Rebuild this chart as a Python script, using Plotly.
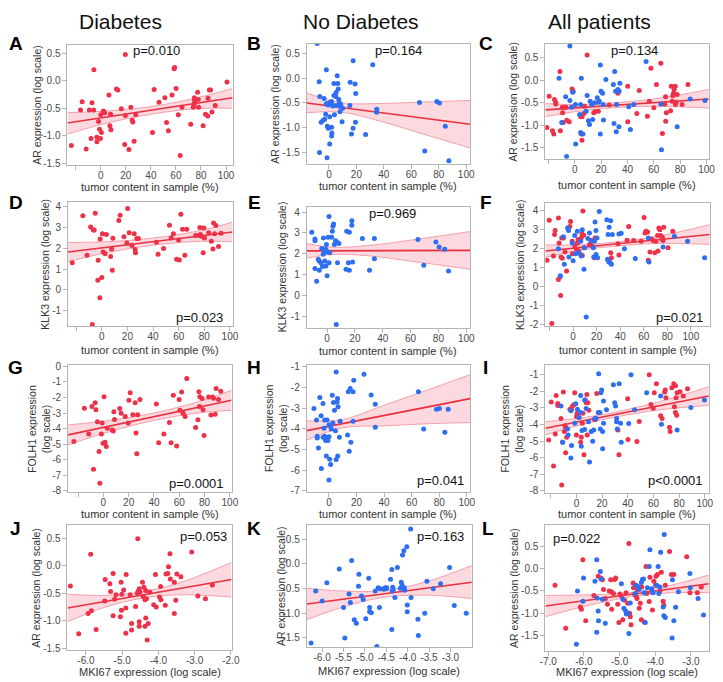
import plotly.graph_objects as go

W, H = 723, 682
FONT = 'Liberation Sans, Arial, Helvetica, sans-serif'
RED = '#EE3149'
BLUE = '#2E6EF2'
LINE_RED = '#E8303F'
BAND_FILL = 'rgba(244, 140, 155, 0.33)'
BAND_EDGE = '#F4A0AA'

# ---------------- data ----------------
HEADERS = ['Diabetes', 'No Diabetes', 'All patients']
LETTERS = ['A', 'B', 'C', 'D', 'E', 'F', 'G', 'H', 'I', 'J', 'K', 'L']
PVALUES = ['p=0.010', 'p=0.164', 'p=0.134', 'p=0.023', 'p=0.969', 'p=0.021',
           'p=0.0001', 'p=0.041', 'p<0.0001', 'p=0.053', 'p=0.163', 'p=0.022']

TUMOR_TICKS = [-20, 0, 20, 40, 60, 80, 100]
TUMOR_LABELS = ['', '0', '20', '40', '60', '80', '100']
AR_TICKS = [0.5, 0.0, -0.5, -1.0, -1.5]
AR_LABELS = ['0.5', '0.0', '-0.5', '-1.0', '-1.5']
KLK3_TICKS = [4, 3, 2, 1, 0, -1, -2]
KLK3_LABELS = ['4', '3', '2', '1', '0', '-1', '-2']
FOLH1_TICKS = [0, -1, -2, -3, -4, -5, -6, -7, -8]
FOLH1_LABELS = ['0', '-1', '-2', '-3', '-4', '-5', '-6', '-7', '-8']
MKI_J_TICKS = [-6, -5, -4, -3, -2]
MKI_J_LABELS = ['-6.0', '-5.0', '-4.0', '-3.0', '-2.0']
MKI_K_TICKS = [-6, -5.5, -5, -4.5, -4, -3.5, -3]
MKI_K_LABELS = ['-6.0', '-5.5', '-5.0', '-4.5', '-4.0', '-3.5', '-3.0']
MKI_L_TICKS = [-7, -6, -5, -4, -3]
MKI_L_LABELS = ['-7.0', '-6.0', '-5.0', '-4.0', '-3.0']

A_pts = [(19.6, 0.48), (-5.5, 0.20), (-14.9, -0.38), (-7.0, -0.40), (-16.2, -0.53), (-5.7, -0.53), (-9.1, -0.53),
         (-23.5, -1.18), (-11.7, -1.24), (-7.8, -1.05), (-3.1, -1.11), (-3.1, -1.03), (-1.8, -0.74), (-0.3, -1.05),
         (-1.0, -0.88), (0.5, -0.94), (0.0, -0.62), (2.1, -0.55), (3.1, -0.58), (6.5, -0.26), (7.8, -0.61),
         (7.3, -0.82), (8.1, -0.89), (12.5, -0.15), (13.6, -0.17), (16.4, -0.51), (19.6, -0.63), (19.1, -1.16),
         (22.5, -1.25), (24.0, -0.48), (25.1, -0.72), (25.6, -0.75), (27.9, -0.62), (26.6, -1.10), (41.3, -0.94),
         (42.6, -0.16), (46.5, -0.39), (51.2, -0.31), (52.5, -0.76), (54.0, -0.91), (56.9, -0.26), (58.5, 0.22),
         (59.0, 0.24), (60.1, -0.14), (61.9, -0.62), (63.4, -1.36), (64.8, -0.48), (71.8, -0.79), (73.9, -0.48),
         (74.7, -0.31), (74.9, -0.35), (74.9, -0.40), (74.4, -0.44), (77.3, -0.21), (77.8, -0.34), (78.1, -0.48),
         (81.7, -0.82), (83.6, -0.61), (85.4, -0.64), (85.6, -0.32), (86.7, -0.17), (87.7, -0.17), (88.8, -0.57),
         (91.4, -0.45), (100.8, -0.02)]

B_pts = [(-8.6, 0.70), (17.6, 0.35), (31.9, 0.27), (-1.9, 0.17), (-7.1, -0.07), (6.0, 0.05), (3.6, -0.11),
         (6.4, -0.11), (15.5, -0.08), (19.0, -0.12), (6.7, -0.22), (5.2, -0.29), (19.5, -0.31), (3.6, -0.35),
         (5.0, -0.37), (-6.7, -0.37), (-3.6, -0.41), (7.1, -0.43), (1.9, -0.47), (0.5, -0.49), (-1.4, -0.51),
         (-0.5, -0.54), (1.7, -0.53), (4.8, -0.55), (7.6, -0.50), (8.1, -0.57), (8.6, -0.53), (10.0, -0.61),
         (15.2, -0.55), (8.1, -0.68), (34.8, -0.63), (34.8, -0.69), (-2.4, -0.73), (4.0, -0.74), (0.5, -0.78),
         (-3.1, -0.83), (-4.3, -0.85), (-5.7, -0.89), (9.5, -0.88), (19.3, -0.89), (-1.2, -0.97), (-0.5, -1.01),
         (1.9, -0.99), (17.6, -1.01), (2.1, -1.11), (1.9, -1.17), (16.4, -1.13), (26.7, -1.14), (0.5, -1.33),
         (-6.9, -1.50), (-1.4, -1.61), (66.0, -0.49), (78.6, -0.47), (80.5, -0.50), (69.8, -1.47), (84.8, -0.97),
         (87.4, -1.67), (-2.0, -0.52), (2.8, -0.56)]

C_red_pts = [(-19.4, -0.36), (-21.1, -1.05), (-16.9, -1.12), (-15.9, -1.19), (-15.4, -0.43), (-14.4, -0.49),
             (-14.4, -0.53), (-11.2, 0.19), (-10.9, -1.12), (-9.4, -0.60), (-9.2, -0.72), (-8.7, -0.94),
             (-7.9, -0.60), (-6.7, -0.60), (-6.0, -0.89), (-4.2, -0.92), (-2.0, -0.20), (-1.2, -0.25), (4.5, -0.81),
             (5.5, -0.81), (5.0, -1.19), (5.5, -1.33), (6.9, -0.74), (9.4, 0.55), (7.4, -0.58), (14.4, -0.72),
             (15.4, -0.70), (17.9, -0.69), (26.1, -0.55), (32.8, -0.29), (40.2, -0.14), (40.2, -0.92), (47.1, -0.74),
             (48.9, -0.23), (55.1, -0.80), (56.6, -0.47), (57.8, 0.26), (60.0, -0.61), (62.0, -0.10), (65.3, 0.37),
             (66.5, -1.18), (68.2, -0.53), (68.9, -0.37), (69.5, -0.72), (69.0, -0.91), (72.7, -0.68), (73.2, -0.14),
             (73.9, -0.47), (74.4, -0.35), (74.9, -0.29), (75.4, -0.21), (76.2, -0.14), (76.4, -0.54), (76.9, -0.49),
             (77.7, -0.32), (81.4, -0.54), (85.9, -0.10)]
C_blue_pts = [(-3.7, 0.75), (-11.9, 0.04), (-6.9, -0.37), (-3.7, -0.45), (-1.5, -0.27), (0.5, -0.54), (-2.5, -0.60),
              (-9.9, -0.94), (0.7, -1.41), (-6.2, -1.69), (3.7, -0.76), (4.5, -1.16), (6.2, -1.19), (5.0, 0.04),
              (4.5, -0.54), (8.7, -0.69), (9.4, -0.34), (10.4, -0.90), (11.2, -0.98), (11.7, -0.47), (12.9, -0.54),
              (13.6, -0.87), (15.1, -0.50), (17.1, -0.39), (17.9, -0.49), (18.6, -0.47), (19.4, 0.33), (19.9, -0.25),
              (21.1, -0.29), (21.6, -0.54), (19.4, -1.19), (21.8, -0.88), (23.6, 0.01), (29.3, -0.10), (30.3, 0.19),
              (31.0, -0.25), (31.8, -0.54), (32.8, -0.21), (33.7, -0.25), (34.2, -0.07), (29.8, -0.96), (31.5, -1.14),
              (33.5, -1.03), (40.9, -0.59), (42.2, -1.09), (44.7, -0.54), (54.1, 0.41), (65.3, -0.53), (65.8, -1.54),
              (77.7, -1.03), (87.6, -0.42), (98.8, -0.45)]

D_pts = [(-23.0, 1.31), (-14.8, 3.56), (-11.5, 1.67), (-8.7, 3.02), (-6.6, 2.88), (-5.9, 2.88), (-5.1, 3.68),
         (-2.8, 1.42), (-3.1, 0.47), (-1.3, 2.45), (-1.5, -0.38), (-7.4, -1.66), (0.0, 0.60), (0.5, 2.70),
         (1.0, 1.82), (2.6, 1.74), (3.6, 2.66), (6.9, 1.61), (7.7, 1.97), (8.2, 0.95), (8.7, 2.48), (13.3, 3.34),
         (14.3, 3.59), (17.3, 2.56), (19.6, 2.26), (20.2, 3.91), (21.4, 2.75), (23.5, 2.13), (25.3, 2.70),
         (26.0, 1.94), (26.3, 1.78), (27.3, 2.47), (28.6, 2.47), (42.6, 2.29), (43.9, 1.71), (48.2, 1.99),
         (52.8, 3.11), (54.1, 2.50), (55.9, 2.70), (58.4, 1.47), (60.5, 1.44), (59.9, 2.40), (61.7, 3.64),
         (63.0, 2.92), (64.8, 1.66), (66.3, 2.92), (73.2, 2.61), (75.8, 2.61), (76.5, 3.00), (77.0, 2.66),
         (77.8, 2.58), (79.1, 1.78), (79.6, 2.97), (80.1, 2.50), (83.4, 2.75), (85.5, 2.34), (86.7, 1.97),
         (87.2, 3.21), (89.0, 3.10), (88.0, 2.70), (91.1, 2.09), (93.1, 2.72)]

E_pts = [(-11.0, 3.03), (-8.7, 2.71), (-8.7, 2.63), (-8.7, 1.29), (-7.5, 0.67), (-6.3, 1.73), (-5.6, 1.65),
         (-5.6, 1.21), (-4.5, 1.56), (-3.8, 2.25), (-2.8, 1.97), (-2.6, 2.76), (-3.3, 1.38), (-2.1, 2.05),
         (-1.6, 1.65), (-0.9, 2.21), (-0.5, 2.44), (-0.9, 1.41), (0.0, 0.94), (0.0, 2.10), (0.7, 2.79), (1.4, 3.79),
         (1.4, 1.57), (1.9, 2.05), (3.3, 2.79), (3.8, 3.08), (4.2, 3.32), (4.7, 3.43), (5.2, 2.44), (6.1, 2.63),
         (6.6, -1.41), (7.0, 2.56), (7.5, 1.57), (8.5, 2.49), (13.6, 1.25), (14.1, 3.08), (15.3, 1.57), (16.0, 1.21),
         (16.0, 3.03), (17.8, 3.59), (17.8, 3.37), (18.3, 1.60), (25.4, 2.73), (30.5, 1.21), (34.0, 2.73),
         (34.0, 1.76), (65.3, 2.68), (69.5, 1.44), (78.2, 2.57), (80.5, 2.32), (84.5, 2.21), (87.3, 1.17)]

F_red_pts = [(-22.2, 1.39), (-20.3, 3.50), (-18.1, -1.95), (-16.7, 1.62), (-15.8, 2.75), (-15.3, 2.96), (-12.5, 3.62),
             (-11.9, 2.31), (-12.5, 0.37), (-11.1, 0.52), (-10.6, -0.47), (-10.3, 1.57), (-9.7, 2.57), (-9.2, 1.50),
             (-8.3, 2.57), (-6.9, 1.83), (-5.6, 0.83), (-2.8, 3.18), (-2.2, 3.44), (-0.8, 2.40), (-0.6, 1.74),
             (1.4, 2.14), (2.8, 1.97), (3.6, 2.31), (4.2, 2.49), (4.7, 1.88), (6.4, 1.70), (6.9, 2.57), (7.5, 2.78),
             (7.8, 1.65), (8.3, 4.00), (8.9, 2.71), (9.2, 2.05), (13.9, 2.23), (15.3, 2.43), (15.8, 2.14), (18.1, 1.53),
             (18.6, 2.57), (31.9, 1.79), (32.5, 1.53), (38.1, 2.26), (38.9, 1.67), (45.8, 2.45), (47.2, 3.18),
             (51.4, 2.43), (61.1, 2.83), (61.9, 2.92), (63.3, 2.89), (63.9, 1.39), (57.8, 2.40), (60.3, 3.65),
             (65.3, 1.83), (66.7, 2.52), (68.1, 2.43), (69.4, 1.79), (70.3, 2.40), (71.7, 2.70), (72.2, 1.88),
             (72.8, 3.10), (73.6, 3.01), (74.4, 2.70), (75.6, 2.52), (76.4, 2.43), (76.9, 3.13), (75.8, 2.61),
             (80.6, 2.05), (84.7, 2.92)]
F_blue_pts = [(-12.5, 2.00), (-10.8, 0.57), (-8.3, 2.63), (-7.5, 1.18), (-4.7, 3.10), (-3.9, 2.96), (-3.6, 1.57),
              (-0.8, 2.31), (0.0, 1.36), (1.4, 2.70), (2.2, 1.74), (3.6, 2.92), (5.0, 1.79), (6.4, 2.40), (6.9, 1.62),
              (7.8, 3.01), (9.2, 0.92), (9.7, 2.05), (11.1, -1.60), (12.5, 2.54), (13.9, 2.83), (15.8, 2.40),
              (17.2, 2.05), (17.5, 1.57), (18.1, 2.40), (18.6, 3.41), (19.4, 2.96), (19.4, 1.70), (20.3, 2.57),
              (20.8, 1.53), (22.2, 3.97), (28.6, 3.53), (29.2, 1.44), (29.7, 2.75), (30.3, 1.30), (30.6, 3.13),
              (31.4, 1.27), (31.9, 3.48), (32.5, 1.18), (33.3, 2.75), (38.9, 2.78), (40.8, 2.82), (43.6, 2.00),
              (52.8, 1.48), (63.9, 2.57), (64.4, 1.30), (76.4, 2.09), (86.1, 2.66), (97.2, 2.40), (111.7, 1.53)]

G_pts = [(-23.3, -4.83), (-15.0, -2.69), (-11.6, -4.34), (-9.0, -2.58), (-6.5, -2.33), (-5.9, -2.79), (-7.8, -6.60),
         (-4.7, -3.56), (-3.4, -5.46), (-2.8, -7.51), (-1.6, -4.34), (-1.0, -3.64), (-0.3, -4.93), (0.5, -1.95),
         (1.3, -4.87), (2.3, -5.14), (3.1, -3.98), (7.0, -4.08), (7.8, -4.15), (8.3, -2.92), (8.8, -3.41),
         (12.9, -2.71), (14.0, -3.01), (17.3, -3.22), (19.6, -3.64), (20.2, -2.18), (21.2, -1.69), (23.3, -3.11),
         (25.1, -2.33), (25.8, -4.28), (26.4, -5.61), (27.1, -3.11), (28.9, -2.12), (41.9, -2.41), (43.7, -4.91),
         (47.8, -4.34), (52.2, -3.60), (53.5, -4.91), (55.3, -1.86), (57.9, -5.12), (59.9, -2.12), (60.5, -2.81),
         (61.8, -1.65), (63.0, -3.01), (64.6, -3.22), (65.9, -0.78), (72.9, -3.92), (74.7, -3.43), (75.5, -1.63),
         (76.0, -2.58), (76.2, -1.95), (78.0, -2.07), (78.8, -2.79), (79.6, -4.44), (83.2, -1.97), (85.0, -3.13),
         (86.3, -1.97), (87.1, -2.05), (88.4, -3.07), (89.1, -1.42), (91.0, -2.12), (92.8, -1.59)]

H_pts = [(-10.9, -3.01), (-9.0, -3.57), (-8.5, -4.35), (-8.5, -4.44), (-7.6, -4.92), (-6.6, -2.48), (-5.7, -3.36),
         (-5.5, -5.91), (-4.3, -2.77), (-4.3, -4.40), (-3.6, -3.97), (-3.1, -3.57), (-3.1, -4.35), (-2.4, -4.48),
         (-2.4, -4.56), (-1.9, -5.31), (-1.4, -3.57), (-1.2, -4.48), (-0.7, -4.56), (0.0, -3.81), (0.0, -4.37),
         (0.0, -6.47), (0.5, -5.47), (0.9, -3.84), (1.7, -4.00), (1.2, -5.72), (2.4, -2.37), (2.8, -3.71),
         (3.3, -2.72), (4.0, -3.09), (4.7, -4.08), (5.2, -1.24), (5.2, -5.48), (5.9, -2.69), (6.2, -2.52),
         (6.4, -5.31), (6.6, -2.93), (7.6, -4.40), (8.1, -3.63), (13.5, -4.29), (14.0, -2.20), (14.7, -5.08),
         (15.4, -2.04), (15.9, -4.64), (17.5, -2.20), (18.0, -1.64), (17.5, -3.63), (25.4, -1.35), (30.6, -2.36),
         (33.6, -2.80), (33.6, -3.92), (64.9, -2.20), (68.7, -4.00), (78.0, -3.04), (80.1, -3.01), (84.1, -4.16),
         (86.5, -3.04)]

I_red_pts = [(-21.6, -4.93), (-19.6, -2.65), (-17.8, -6.50), (-16.5, -4.57), (-15.8, -2.25), (-14.5, -2.73),
             (-14.5, -2.85), (-12.0, -3.64), (-11.5, -7.65), (-10.9, -5.07), (-10.2, -2.05), (-9.4, -4.43),
             (-8.9, -4.08), (-8.4, -5.70), (-7.6, -4.77), (-8.4, -4.17), (-5.1, -3.08), (-3.8, -3.08), (-3.1, -2.88),
             (-1.8, -2.79), (-1.3, -2.09), (0.0, -3.52), (0.5, -3.32), (0.0, -4.63), (2.0, -3.58), (3.3, -5.07),
             (3.8, -4.77), (4.6, -3.92), (5.1, -3.32), (5.9, -5.82), (6.9, -2.53), (7.6, -2.69), (8.1, -2.19),
             (8.9, -2.69), (8.4, -4.63), (9.7, -3.14), (14.0, -3.68), (14.5, -3.72), (15.8, -2.13), (32.3, -4.33),
             (33.1, -5.82), (39.9, -2.45), (40.2, -4.91), (47.1, -5.03), (48.9, -3.82), (56.7, -1.00), (58.0, -2.79),
             (59.8, -3.02), (60.6, -2.09), (62.3, -1.54), (65.6, -3.48), (66.7, -3.64), (68.7, -2.05), (69.2, -1.93),
             (69.7, -2.39), (72.5, -4.17), (73.0, -4.43), (74.3, -1.79), (75.8, -1.54), (76.3, -2.94), (77.1, -3.28),
             (78.1, -3.44), (77.1, -1.66), (77.6, -2.39), (78.4, -2.09), (80.7, -2.03), (83.2, -2.29), (86.5, -1.85)]
I_blue_pts = [(-10.7, -5.07), (-12.0, -2.89), (-6.9, -4.27), (-6.4, -4.63), (-4.3, -3.18), (-3.8, -5.27),
              (-4.3, -6.02), (-1.3, -3.92), (-0.5, -2.75), (0.8, -3.08), (2.0, -3.58), (3.3, -3.28), (3.3, -2.25),
              (3.8, -5.31), (4.3, -4.37), (6.4, -2.53), (6.4, -4.31), (7.6, -3.04), (9.4, -3.84), (10.2, -6.26),
              (11.5, -4.43), (12.7, -5.01), (13.5, -4.33), (14.5, -3.64), (15.3, -3.64), (17.3, -0.94), (18.6, -4.27),
              (17.0, -3.28), (18.3, -3.28), (19.1, -2.09), (19.6, -1.93), (20.4, -4.43), (21.1, -3.92), (20.4, -5.47),
              (21.1, -2.59), (23.4, -3.12), (28.8, -1.60), (29.8, -2.69), (30.5, -2.88), (31.3, -3.64), (31.3, -3.84),
              (31.8, -4.27), (33.3, -1.54), (34.4, -3.92), (34.9, -5.07), (40.7, -3.94), (42.5, -1.00), (45.3, -3.12),
              (54.7, -2.09), (65.6, -2.29), (66.2, -3.98), (78.4, -4.33), (89.1, -2.98), (99.7, -2.53)]

J_pts = [(-6.43, -0.37), (-6.20, -1.24), (-5.94, -0.87), (-5.87, 0.21), (-5.85, -0.82), (-5.72, -1.16),
         (-5.48, -0.64), (-5.47, -0.25), (-5.34, -0.33), (-5.32, -0.47), (-5.25, -0.14), (-5.25, -0.91),
         (-5.21, -0.61), (-5.17, -0.53), (-5.05, -0.93), (-5.03, -0.30), (-5.02, -0.81), (-5.01, -0.52),
         (-4.96, -0.44), (-4.90, -0.77), (-4.90, -1.23), (-4.89, -0.16), (-4.78, -0.53), (-4.74, -1.05),
         (-4.74, -1.17), (-4.63, -0.74), (-4.57, 0.49), (-4.58, -0.50), (-4.56, -0.47), (-4.53, -0.42),
         (-4.51, -0.48), (-4.53, -1.02), (-4.53, -1.10), (-4.44, -0.30), (-4.42, -0.56), (-4.40, -0.39),
         (-4.37, -0.62), (-4.37, -1.10), (-4.35, -0.95), (-4.33, -0.60), (-4.31, -1.35), (-4.28, -1.05),
         (-4.35, -0.45), (-4.24, -0.48), (-4.13, -0.71), (-4.08, -0.16), (-4.06, -0.75), (-3.97, -0.57),
         (-3.94, -0.38), (-3.93, -0.62), (-3.81, -0.72), (-3.79, -0.15), (-3.74, -0.14), (-3.72, -0.02),
         (-3.68, 0.22), (-3.67, -0.24), (-3.56, -0.30), (-3.56, -0.87), (-3.52, -0.63), (-3.49, -0.15),
         (-3.38, -0.20), (-3.08, 0.25), (-2.91, -0.55), (-2.70, -0.60), (-2.51, -0.35)]

K_pts = [(-6.26, -1.60), (-6.15, -0.55), (-6.00, -0.75), (-5.89, -0.38), (-5.60, -0.10), (-5.50, -0.88),
         (-5.47, -1.50), (-5.37, -0.61), (-5.34, -0.78), (-5.31, 0.07), (-5.25, -1.13), (-5.20, -1.20),
         (-5.15, -0.45), (-5.14, -0.21), (-5.08, -0.65), (-5.04, -0.72), (-4.98, -1.11), (-4.91, -0.29),
         (-4.89, -0.97), (-4.89, -0.88), (-4.85, -0.99), (-4.76, -0.55), (-4.72, -1.67), (-4.69, -0.48),
         (-4.66, -0.88), (-4.64, -0.50), (-4.56, -0.51), (-4.53, -0.48), (-4.50, -0.50), (-4.49, -0.48),
         (-4.40, -0.31), (-4.37, -0.11), (-4.37, -1.33), (-4.36, -0.55), (-4.35, -0.47), (-4.34, -0.52),
         (-4.30, -0.68), (-4.24, -0.07), (-4.17, -0.49), (-4.15, -0.37), (-4.13, -0.43), (-4.12, 0.18),
         (-4.09, 0.27), (-4.08, -0.48), (-4.07, -0.53), (-4.02, 0.35), (-4.01, -0.83), (-4.01, -0.97),
         (-3.93, 0.71), (-3.92, -0.68), (-3.76, -1.12), (-3.75, -1.45), (-3.60, -1.00), (-3.55, -0.35),
         (-3.40, -0.50), (-3.23, -0.40), (-3.02, -0.07), (-2.91, -0.84), (-2.63, -1.00)]

L_red_pts = [(-6.81, -0.37), (-6.51, -1.34), (-6.03, 0.20), (-6.10, -0.86), (-6.07, -0.91), (-5.95, -1.17),
             (-5.72, -0.60), (-5.60, -0.17), (-5.52, -0.21), (-5.48, -0.25), (-5.45, -0.47), (-5.40, -0.67),
             (-5.34, -0.80), (-5.29, -0.50), (-5.25, -0.25), (-5.23, -0.52), (-5.22, -0.91), (-5.17, -0.56),
             (-5.14, -0.24), (-5.11, -0.21), (-5.05, -0.80), (-5.02, -1.21), (-4.99, -0.57), (-4.95, -0.61),
             (-4.91, -1.15), (-4.86, -0.71), (-4.82, -0.54), (-4.77, -0.78), (-4.74, 0.57), (-4.72, -1.00),
             (-4.70, -1.08), (-4.68, -1.26), (-4.62, -0.32), (-4.61, -0.43), (-4.58, -0.57), (-4.54, -0.62),
             (-4.51, -0.67), (-4.50, -0.47), (-4.45, -0.89), (-4.42, -0.78), (-4.39, -1.15), (-4.38, -0.41),
             (-4.31, -1.20), (-4.26, 0.05), (-4.24, -0.56), (-4.17, -0.74), (-4.15, -0.19), (-4.10, -0.52),
             (-4.08, -0.93), (-4.04, -0.28), (-3.99, -0.37), (-3.98, -0.17), (-3.94, -0.13), (-3.87, -0.50),
             (-3.83, -0.08), (-3.78, -0.73), (-3.76, -0.82), (-3.72, -0.37), (-3.60, 0.39), (-3.55, -0.13),
             (-3.48, -0.13), (-3.12, 0.27), (-3.03, -0.54), (-2.82, -0.54), (-2.71, -0.41)]
L_blue_pts = [(-6.21, -1.70), (-6.18, -0.50), (-6.03, -0.73), (-6.01, -0.21), (-5.69, -0.28), (-5.64, 0.20),
              (-5.63, -0.66), (-5.60, -0.95), (-5.59, -1.17), (-5.64, -1.43), (-5.54, -0.06), (-5.52, -0.23),
              (-5.48, -0.69), (-5.40, -1.23), (-4.95, -0.34), (-4.91, -0.69), (-4.88, -0.89), (-4.83, -0.95),
              (-4.81, -1.02), (-4.77, -1.00), (-4.74, -1.46), (-4.70, -0.77), (-4.56, -0.56), (-4.54, -0.37),
              (-4.49, -0.40), (-4.45, -0.46), (-4.39, -0.31), (-4.36, -0.24), (-4.33, -0.23), (-4.31, -0.54),
              (-4.28, -1.21), (-4.22, -0.43), (-4.17, 0.05), (-4.15, 0.43), (-4.10, -0.45), (-4.08, -0.52),
              (-4.06, -0.54), (-3.96, -0.37), (-3.92, 0.05), (-3.90, -0.56), (-3.87, -0.41), (-3.85, 0.37),
              (-3.78, -0.86), (-3.76, -1.06), (-3.72, -1.10), (-3.75, 0.77), (-3.52, -0.25), (-3.53, -1.56),
              (-3.48, -1.17), (-3.43, -0.87), (-3.35, -0.52), (-3.03, -0.11), (-3.02, -0.43), (-2.80, -0.67),
              (-2.65, -1.04)]

# fitted lines (end points) and confidence bands
A_fit_x, A_fit_y = [-26.6, 105.2], [-0.77, -0.31]
A_band_x = [-26.6, 5, 40, 75, 105.2]
A_band_hi = [-0.58, -0.55, -0.47, -0.32, -0.14]
A_band_lo = [-0.97, -0.77, -0.61, -0.51, -0.50]

B_fit_x, B_fit_y = [-16.2, 102.9], [-0.50, -0.93]
B_band_x = [-16.2, 10, 40, 70, 102.9]
B_band_hi = [-0.30, -0.50, -0.51, -0.48, -0.45]
B_band_lo = [-0.70, -0.69, -0.89, -1.14, -1.41]

C_fit_x, C_fit_y = [-22.3, 101.7], [-0.66, -0.42]
C_band_x = [-22.3, 0, 25, 60, 101.7]
C_band_hi = [-0.52, -0.54, -0.51, -0.42, -0.21]
C_band_lo = [-0.81, -0.70, -0.62, -0.58, -0.62]

D_fit_x, D_fit_y = [-26.3, 102.0], [1.82, 2.78]
D_band_x = [-26.3, 5, 40, 75, 102.0]
D_band_hi = [2.28, 2.32, 2.49, 2.83, 3.25]
D_band_lo = [1.36, 1.80, 2.15, 2.33, 2.31]

E_fit_x, E_fit_y = [-14.6, 102.8], [2.14, 2.16]
E_band_x = [-14.6, 5, 30, 65, 102.8]
E_band_hi = [2.49, 2.31, 2.40, 2.70, 3.07]
E_band_lo = [1.79, 1.97, 1.90, 1.60, 1.25]

F_fit_x, F_fit_y = [-23.6, 116.1], [1.88, 2.75]
F_band_x = [-23.6, 5, 30, 70, 116.1]
F_band_hi = [2.21, 2.20, 2.32, 2.64, 3.27]
F_band_lo = [1.55, 1.92, 2.10, 2.28, 2.23]

G_fit_x, G_fit_y = [-27.9, 101.3], [-4.40, -2.18]
G_band_x = [-27.9, 5, 40, 75, 101.3]
G_band_hi = [-3.76, -3.47, -2.99, -2.27, -1.54]
G_band_lo = [-5.04, -4.19, -3.47, -2.99, -2.82]

H_fit_x, H_fit_y = [-16.1, 102.4], [-4.08, -2.53]
H_band_x = [-16.1, 10, 40, 70, 102.4]
H_band_hi = [-3.61, -3.54, -2.85, -2.15, -1.37]
H_band_lo = [-4.54, -3.94, -3.85, -3.75, -3.69]

I_fit_x, I_fit_y = [-24.2, 103.1], [-4.23, -2.29]
I_band_x = [-24.2, 5, 30, 65, 103.1]
I_band_hi = [-3.83, -3.59, -3.26, -2.62, -1.73]
I_band_lo = [-4.63, -3.99, -3.56, -3.12, -2.85]

J_fit_x, J_fit_y = [-6.51, -1.98], [-0.77, -0.25]
J_band_x = [-6.51, -5.5, -4.6, -3.5, -1.98]
J_band_hi = [-0.52, -0.54, -0.49, -0.33, 0.06]
J_band_lo = [-1.02, -0.76, -0.61, -0.53, -0.57]

K_fit_x, K_fit_y = [-6.36, -2.50], [-0.81, -0.37]
K_band_x = [-6.36, -5.5, -4.6, -3.6, -2.50]
K_band_hi = [-0.49, -0.55, -0.54, -0.37, -0.03]
K_band_lo = [-1.13, -0.87, -0.68, -0.63, -0.70]

L_fit_x, L_fit_y = [-7.08, -2.50], [-0.84, -0.34]
L_band_x = [-7.08, -6, -4.6, -3.5, -2.50]
L_band_hi = [-0.60, -0.59, -0.53, -0.36, -0.14]
L_band_lo = [-1.08, -0.85, -0.62, -0.54, -0.54]

# ---------------- layout helpers ----------------
def px(x):
    return x / W


def py(y):
    return 1 - y / H


X_TUMOR = 'tumor content in sample (%)'
X_MKI = 'MKI67 expression (log scale)'
Y_AR = 'AR expression (log scale)'
Y_KLK = 'KLK3 expression (log scale)'
Y_FOL = 'FOLH1 expression<br>(log scale)'

panels = [
    dict(red=A_pts, blue=None, fit=(A_fit_x, A_fit_y), band=(A_band_x, A_band_hi, A_band_lo),
         box=(62.7, 231, 41, 163.3), xr=(-26.6, 105.2), yr=(-1.54, 0.66),
         xt=(TUMOR_TICKS, TUMOR_LABELS), yt=(AR_TICKS, AR_LABELS), xtitle=X_TUMOR, ytitle=Y_AR,
         xty=185, ytx=31.5, letter=(10, 40), p=(153, 47)),
    dict(red=None, blue=B_pts, fit=(B_fit_x, B_fit_y), band=(B_band_x, B_band_hi, B_band_lo),
         box=(306.7, 473.3, 40, 161.7), xr=(-16.2, 102.9), yr=(-1.73, 0.70),
         xt=(TUMOR_TICKS, TUMOR_LABELS), yt=(AR_TICKS, AR_LABELS), xtitle=X_TUMOR, ytitle=Y_AR,
         xty=184, ytx=273.5, letter=(253, 40), p=(400.7, 47)),
    dict(red=C_red_pts, blue=C_blue_pts, fit=(C_fit_x, C_fit_y), band=(C_band_x, C_band_hi, C_band_lo),
         box=(550, 716.7, 40, 156.7), xr=(-22.3, 101.7), yr=(-1.74, 0.805),
         xt=(TUMOR_TICKS, TUMOR_LABELS), yt=(AR_TICKS, AR_LABELS), xtitle=X_TUMOR, ytitle=Y_AR,
         xty=183, ytx=517.5, letter=(489, 40), p=(640.7, 47)),
    dict(red=D_pts, blue=None, fit=(D_fit_x, D_fit_y), band=(D_band_x, D_band_hi, D_band_lo),
         box=(63.3, 231, 200, 326), xr=(-26.3, 102.0), yr=(-1.74, 4.24),
         xt=(TUMOR_TICKS, TUMOR_LABELS), yt=(KLK3_TICKS, KLK3_LABELS), xtitle=X_TUMOR, ytitle=Y_KLK,
         xty=350, ytx=39.5, letter=(10, 201), p=(197.7, 317)),
    dict(red=None, blue=E_pts, fit=(E_fit_x, E_fit_y), band=(E_band_x, E_band_hi, E_band_lo),
         box=(306.7, 473.3, 205, 327.7), xr=(-14.6, 102.8), yr=(-1.57, 4.27),
         xt=(TUMOR_TICKS, TUMOR_LABELS), yt=(KLK3_TICKS, KLK3_LABELS), xtitle=X_TUMOR, ytitle=Y_KLK,
         xty=351, ytx=281.5, letter=(253, 201), p=(394, 212)),
    dict(red=F_red_pts, blue=F_blue_pts, fit=(F_fit_x, F_fit_y), band=(F_band_x, F_band_hi, F_band_lo),
         box=(550, 717.7, 201.7, 326), xr=(-23.6, 116.1), yr=(-2.09, 4.40),
         xt=(TUMOR_TICKS, TUMOR_LABELS), yt=(KLK3_TICKS, KLK3_LABELS), xtitle=X_TUMOR, ytitle=Y_KLK,
         xty=350, ytx=523.5, letter=(489, 201), p=(686.7, 317)),
    dict(red=G_pts, blue=None, fit=(G_fit_x, G_fit_y), band=(G_band_x, G_band_hi, G_band_lo),
         box=(63.3, 230, 365, 494), xr=(-27.9, 101.3), yr=(-8.08, 0.106),
         xt=(TUMOR_TICKS, TUMOR_LABELS), yt=(FOLH1_TICKS, FOLH1_LABELS), xtitle=X_TUMOR, ytitle=Y_FOL,
         xty=516, ytx=34, letter=(10, 368), p=(194, 485)),
    dict(red=None, blue=H_pts, fit=(H_fit_x, H_fit_y), band=(H_band_x, H_band_hi, H_band_lo),
         box=(306.7, 473.3, 365, 494), xr=(-16.1, 102.4), yr=(-7.06, -0.89),
         xt=(TUMOR_TICKS, TUMOR_LABELS), yt=(FOLH1_TICKS, FOLH1_LABELS), xtitle=X_TUMOR, ytitle=Y_FOL,
         xty=516, ytx=276, letter=(253, 368), p=(442.7, 482)),
    dict(red=I_red_pts, blue=I_blue_pts, fit=(I_fit_x, I_fit_y), band=(I_band_x, I_band_hi, I_band_lo),
         box=(550, 716.7, 365, 494.3), xr=(-24.2, 103.1), yr=(-8.10, -0.40),
         xt=(TUMOR_TICKS, TUMOR_LABELS), yt=(FOLH1_TICKS, FOLH1_LABELS), xtitle=X_TUMOR, ytitle=Y_FOL,
         xty=516, ytx=516, letter=(489, 368), p=(682.7, 482)),
    dict(red=J_pts, blue=None, fit=(J_fit_x, J_fit_y), band=(J_band_x, J_band_hi, J_band_lo),
         box=(62.7, 230, 526.7, 654), xr=(-6.51, -1.98), yr=(-1.54, 0.75),
         xt=(MKI_J_TICKS, MKI_J_LABELS), yt=(AR_TICKS, AR_LABELS), xtitle=X_MKI, ytitle=Y_AR,
         xty=676, ytx=31, letter=(10, 531), p=(201, 539)),
    dict(red=None, blue=K_pts, fit=(K_fit_x, K_fit_y), band=(K_band_x, K_band_hi, K_band_lo),
         box=(306.7, 475, 526.7, 651), xr=(-6.36, -2.50), yr=(-1.69, 0.80),
         xt=(MKI_K_TICKS, MKI_K_LABELS), yt=(AR_TICKS, AR_LABELS), xtitle=X_MKI, ytitle=Y_AR,
         xty=675, ytx=280.5, letter=(253, 531), p=(443.3, 539)),
    dict(red=L_red_pts, blue=L_blue_pts, fit=(L_fit_x, L_fit_y), band=(L_band_x, L_band_hi, L_band_lo),
         box=(550, 716.7, 526.7, 655), xr=(-7.08, -2.50), yr=(-1.86, 0.996),
         xt=(MKI_L_TICKS, MKI_L_LABELS), yt=(AR_TICKS, AR_LABELS), xtitle=X_MKI, ytitle=Y_AR,
         xty=676, ytx=518, letter=(492, 531), p=(581.7, 541)),
]

fig = go.Figure()
annotations = []
layout_axes = {}

for i, pnl in enumerate(panels, start=1):
    xref = 'x' if i == 1 else f'x{i}'
    yref = 'y' if i == 1 else f'y{i}'
    xname = 'xaxis' if i == 1 else f'xaxis{i}'
    yname = 'yaxis' if i == 1 else f'yaxis{i}'
    l, r, t, b = pnl['box']
    common = dict(showline=True, mirror=True, linecolor='#b4b4b4', linewidth=1,
                  ticks='outside', ticklen=4, tickcolor='#b4b4b4', tickwidth=1,
                  showgrid=False, zeroline=False, tickmode='array',
                  tickfont=dict(family=FONT, size=10, color='#4a4a4a'), fixedrange=True)
    layout_axes[xname] = dict(common, domain=[px(l), px(r)], range=list(pnl['xr']), anchor=yref,
                              tickvals=pnl['xt'][0], ticktext=pnl['xt'][1], ticklabelstandoff=-3)
    layout_axes[yname] = dict(common, domain=[py(b), py(t)], range=list(pnl['yr']), anchor=xref,
                              tickvals=pnl['yt'][0], ticktext=pnl['yt'][1])

    bx, bhi, blo = pnl['band']
    fig.add_trace(go.Scatter(x=bx, y=bhi, mode='lines', xaxis=xref, yaxis=yref,
                             line=dict(color=BAND_EDGE, width=1, shape='spline'),
                             hoverinfo='skip', showlegend=False))
    fig.add_trace(go.Scatter(x=bx, y=blo, mode='lines', xaxis=xref, yaxis=yref, fill='tonexty',
                             fillcolor=BAND_FILL, line=dict(color=BAND_EDGE, width=1, shape='spline'),
                             hoverinfo='skip', showlegend=False))
    fx, fy = pnl['fit']
    fig.add_trace(go.Scatter(x=fx, y=fy, mode='lines', xaxis=xref, yaxis=yref,
                             line=dict(color=LINE_RED, width=1.6), hoverinfo='skip', showlegend=False))
    for pts, col in ((pnl['red'], RED), (pnl['blue'], BLUE)):
        if pts:
            xs, ys = zip(*pts)
            fig.add_trace(go.Scatter(x=list(xs), y=list(ys), mode='markers', xaxis=xref, yaxis=yref,
                                     marker=dict(color=col, size=5, line=dict(width=0)),
                                     showlegend=False))

    annotations.append(dict(text=pnl['xtitle'], x=px((l + r) / 2), y=py(pnl['xty']),
                            xanchor='center', yanchor='middle',
                            font=dict(family=FONT, size=11, color='#333333')))
    annotations.append(dict(text=pnl['ytitle'], x=px(pnl['ytx']), y=py((t + b) / 2), textangle=-90,
                            xanchor='center', yanchor='middle',
                            font=dict(family=FONT, size=10.5, color='#333333')))
    annotations.append(dict(text=LETTERS[i - 1], x=px(pnl['letter'][0]), y=py(pnl['letter'][1]),
                            xanchor='center', yanchor='middle',
                            font=dict(family=FONT, size=19, color='#000000', weight='bold')))
    annotations.append(dict(text=PVALUES[i - 1], x=px(pnl['p'][0]), y=py(pnl['p'][1]),
                            xanchor='center', yanchor='middle',
                            font=dict(family=FONT, size=13, color='#111111')))

for name, xc in zip(HEADERS, [117, 362, 605]):
    annotations.append(dict(text=name, x=px(xc), y=py(18), xanchor='center', yanchor='middle',
                            font=dict(family=FONT, size=21, color='#111111')))

for a in annotations:
    a.update(xref='paper', yref='paper', showarrow=False)

fig.update_layout(width=W, height=H, margin=dict(l=0, r=0, t=0, b=0),
                  paper_bgcolor='white', plot_bgcolor='white',
                  annotations=annotations, showlegend=False, **layout_axes)

fig.write_html('out.html', config={'displayModeBar': False},
               post_script="document.body.style.margin='0px';document.body.style.padding='0px';"
                           "document.documentElement.style.overflow='hidden';")
